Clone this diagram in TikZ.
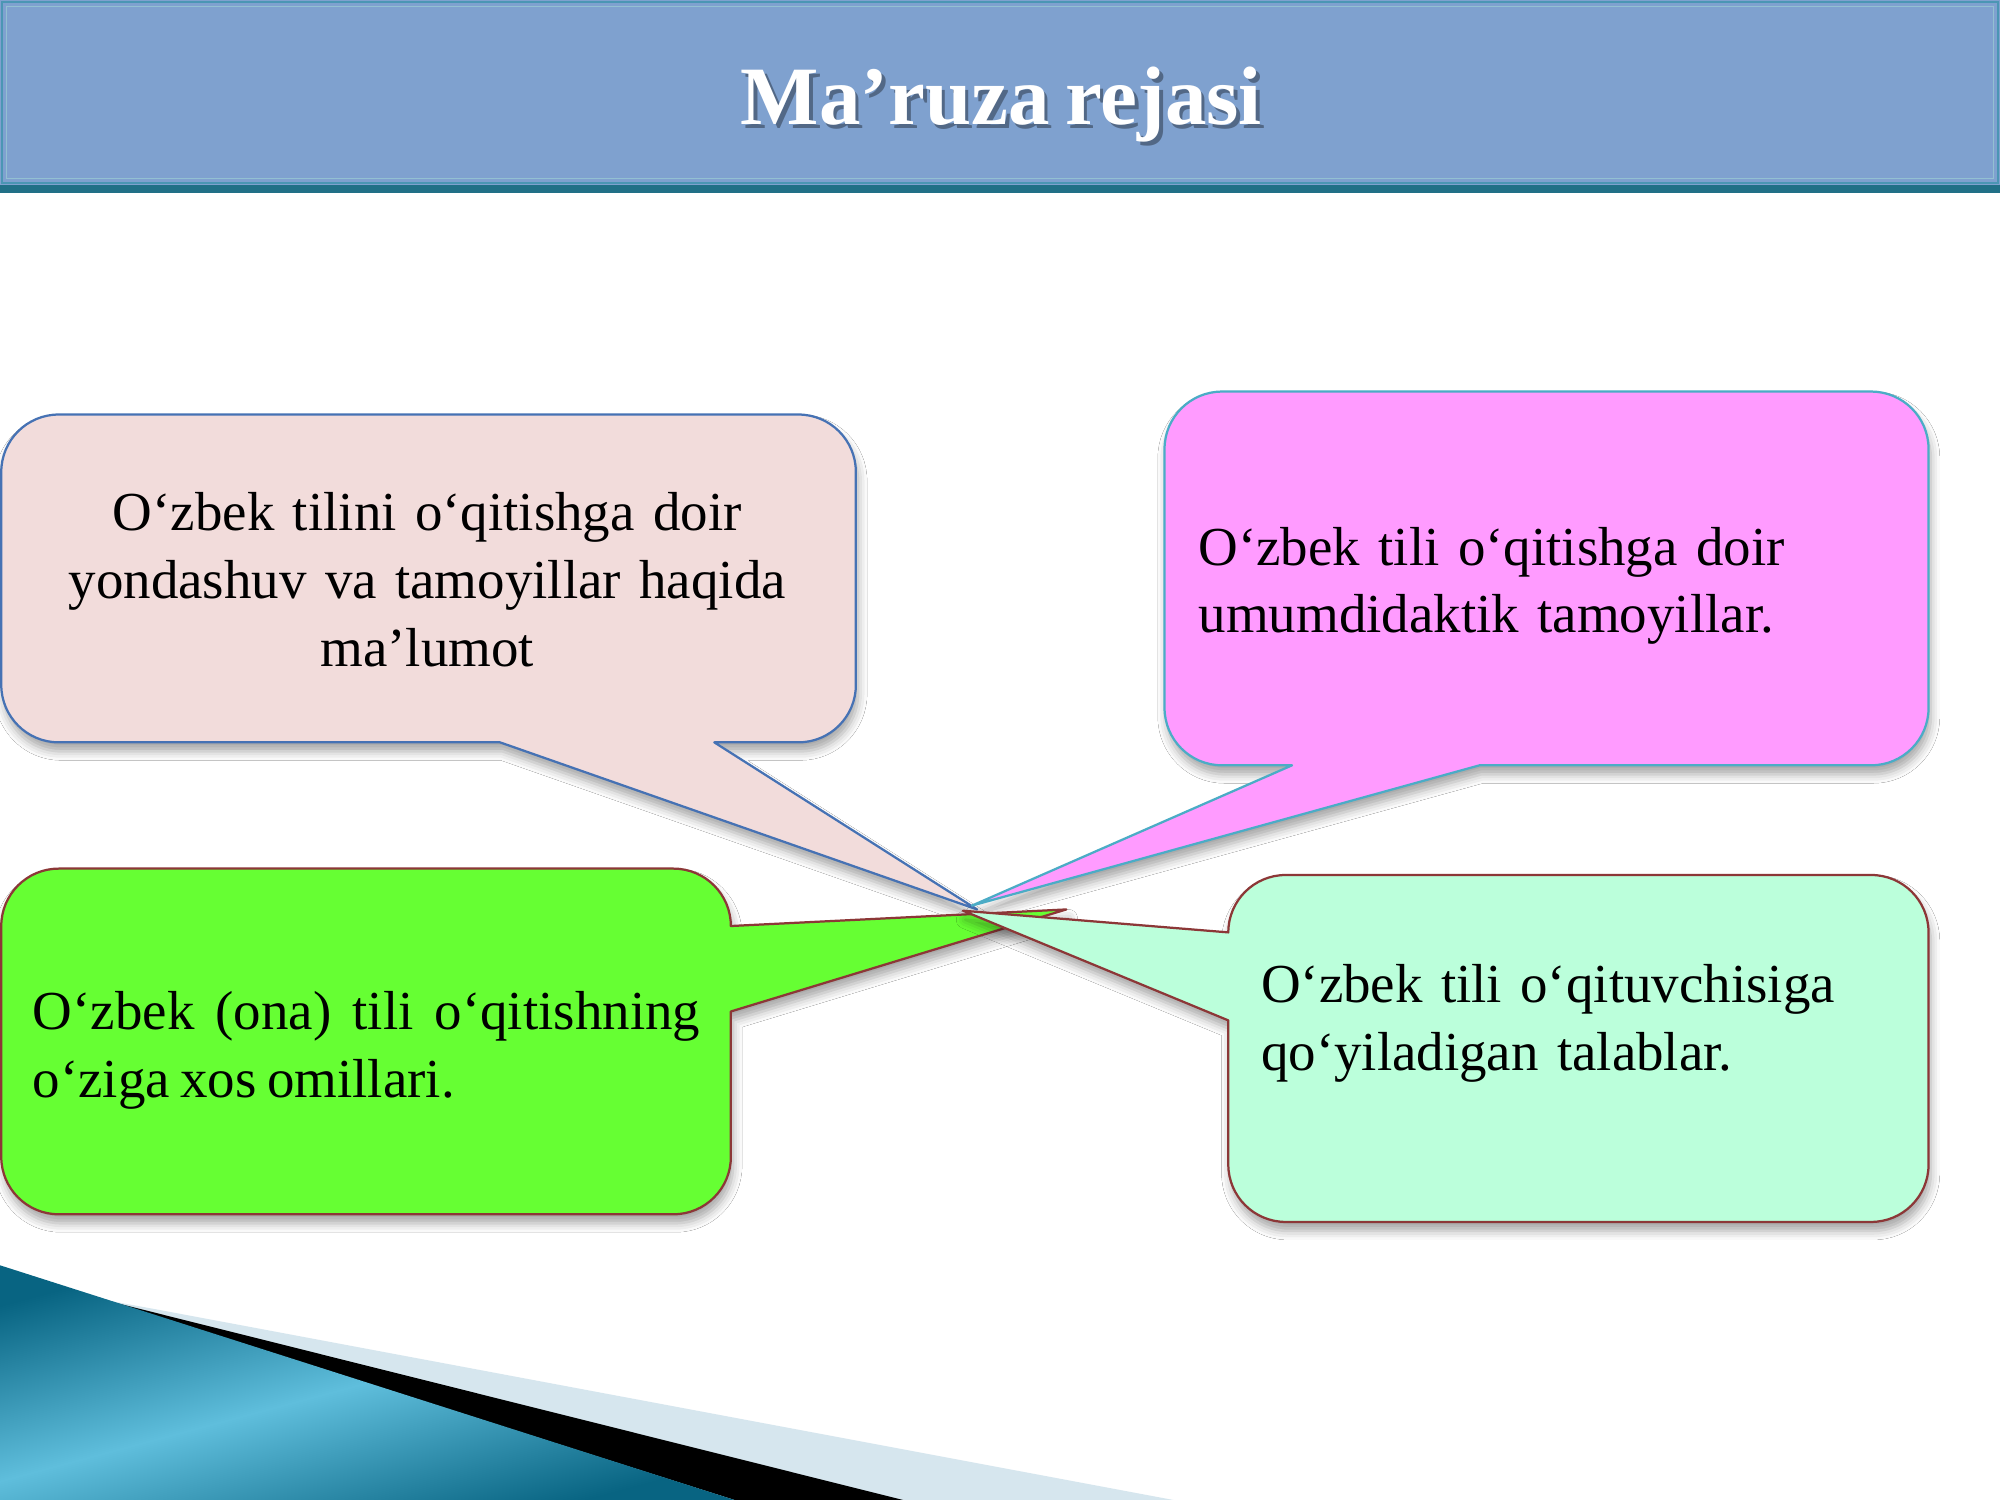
\documentclass[tikz,border=0pt]{standalone}
\usepackage{fontspec}
\setmainfont{Liberation Serif}[WordSpace=0.75]
\usetikzlibrary{shadows.blur}
\definecolor{barfill}{RGB}{127,161,207}
\definecolor{barline}{RGB}{75,150,180}
\definecolor{bardark}{RGB}{33,112,135}
\definecolor{pinkfill}{RGB}{242,220,219}
\definecolor{pinkline}{RGB}{70,114,180}
\definecolor{magfill}{RGB}{255,155,255}
\definecolor{magline}{RGB}{75,172,198}
\definecolor{greenfill}{RGB}{102,255,51}
\definecolor{mintfill}{RGB}{187,255,219}
\definecolor{redline}{RGB}{140,55,55}
\definecolor{tealdark}{RGB}{8,100,130}
\definecolor{teallight}{RGB}{95,190,220}
\definecolor{paleblue}{RGB}{214,230,238}
\begin{document}
\begin{tikzpicture}[x=0.01cm,y=-0.01cm,
  bubble/.style={line width=0.5pt,line join=round,blur shadow={shadow xshift=0.5pt,shadow yshift=-2pt,shadow blur radius=2pt,shadow opacity=35}},
  txt/.style={inner sep=0pt,font=\fontsize{12.25}{15.1}\selectfont},
  head/.style={inner sep=0pt,anchor=base,font=\fontsize{18.5}{22}\bfseries\selectfont}]
\pgfmathsetmacro{\rad}{45}
\useasboundingbox (0,0) rectangle (1568,1176);
\fill[white] (0,0) rectangle (1568,1176);
\fill[barfill] (0,0) rectangle (1568,145);
\draw[barline,line width=0.6pt] (1.5,1.5) rectangle (1566.5,143.5);
\draw[barline!60!white,line width=0.3pt] (5,5) rectangle (1563,140);
\fill[bardark] (0,145) rectangle (1568,151);
\node[head,text=black,opacity=0.35] (titleshadow) at (788,101) {Ma’ruza rejasi};
\node[head,text=white] (title) at (785,98) {Ma’ruza rejasi};
\fill[paleblue] (81,1019) -- (125,1027) -- (920,1176) -- (700,1176) -- cycle;
\fill[black] (81,1019) -- (708,1176) -- (576,1176) -- cycle;
\shade[left color=tealdark,right color=tealdark,middle color=teallight,shading angle=15] (0,992) -- (576,1176) -- (0,1176) -- cycle;
\coordinate (tipA) at (766,713);
\coordinate (tipB) at (762,710);
\coordinate (tipC) at (836,713);
\coordinate (tipD) at (755,714);
\draw[bubble,fill=pinkfill,draw=pinkline] (46,325) -- (626,325) arc[start angle=-90,end angle=0,radius=\rad] -- (671,537) arc[start angle=0,end angle=90,radius=\rad] -- (560,582) -- (tipA) -- (392,582) -- (46,582) arc[start angle=90,end angle=180,radius=\rad] -- (1,370) arc[start angle=180,end angle=270,radius=\rad] -- cycle;
\draw[bubble,fill=magfill,draw=magline] (958,307) -- (1467,307) arc[start angle=-90,end angle=0,radius=\rad] -- (1512,555) arc[start angle=0,end angle=90,radius=\rad] -- (1160,600) -- (tipB) -- (1013,600) -- (958,600) arc[start angle=90,end angle=180,radius=\rad] -- (913,352) arc[start angle=180,end angle=270,radius=\rad] -- cycle;
\draw[bubble,fill=greenfill,draw=redline] (46,681) -- (528,681) arc[start angle=-90,end angle=0,radius=\rad] -- (tipC) -- (573,793) -- (573,907) arc[start angle=0,end angle=90,radius=\rad] -- (46,952) arc[start angle=90,end angle=180,radius=\rad] -- (1,726) arc[start angle=180,end angle=270,radius=\rad] -- cycle;
\draw[bubble,fill=mintfill,draw=redline] (1008,686) -- (1467,686) arc[start angle=-90,end angle=0,radius=\rad] -- (1512,913) arc[start angle=0,end angle=90,radius=\rad] -- (1008,958) arc[start angle=90,end angle=180,radius=\rad] -- (963,800) -- (tipD) -- (963,731) arc[start angle=180,end angle=270,radius=\rad] -- cycle;
\node[txt,text width=6cm,align=center,anchor=base] (planA) at (335,416) {O‘zbek tilini o‘qitishga doir\\yondashuv va tamoyillar haqida\\ma’lumot};
\node[txt,text width=5.6cm,align=left,anchor=base west] (planB) at (939,443) {O‘zbek tili o‘qitishga doir\\umumdidaktik tamoyillar.};
\node[txt,text width=5.23cm,align=justify,anchor=base west] (planC) at (25,807) {O‘zbek (ona) tili o‘qitishning\linebreak o‘ziga xos omillari.};
\node[txt,text width=5.2cm,align=left,anchor=base west] (planD) at (988,786) {O‘zbek tili o‘qituvchisiga\\qo‘yiladigan talablar.};
\end{tikzpicture}
\end{document}
